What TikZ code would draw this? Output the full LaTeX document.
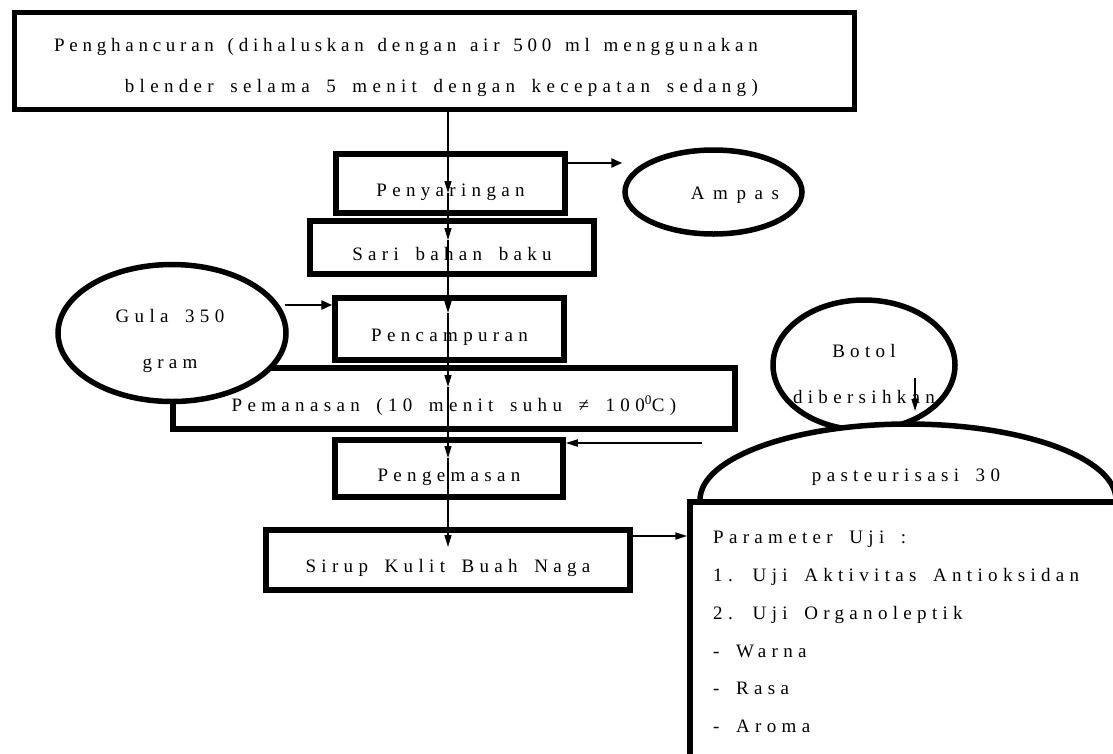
\documentclass[tikz,border=0pt]{standalone}
\usepackage{fontspec}
\setmainfont[LetterSpace=28,WordSpace=1.65]{Liberation Serif}
\newfontfamily\tightserif[LetterSpace=25,WordSpace=1.45]{Liberation Serif}
\usetikzlibrary{shapes.geometric,arrows.meta}

\begin{document}
\begin{tikzpicture}[x=1pt,y=-1pt,
  font=\fontsize{19}{22}\selectfont,
  stepbox/.style={draw, line width=5.5pt, fill=white, inner sep=0pt, text height=25pt, text depth=0pt},
  oval/.style={ellipse, draw, line width=5.5pt, fill=white, inner sep=0pt},
  flow/.style={line width=1.3pt, -{Triangle[length=12pt,width=7pt]}},
  side/.style={line width=2.6pt, -{Triangle[length=11pt,width=9pt]}}]
\useasboundingbox (0,0) rectangle (1113,753);
\clip (0,0) rectangle (1113,753);

\node[stepbox, minimum width=840pt, minimum height=97pt] (hancur) at (434.5,61) {};
\node[align=right, anchor=east, inner sep=0pt, font=\fontsize{19}{41}\selectfont] (hancurtxt) at (758,67)
  {{\tightserif Penghancuran (dihaluskan dengan air 500 ml menggunakan}\\blender selama 5 menit dengan kecepatan sedang)};

\node[stepbox, minimum width=229pt, minimum height=59pt] (saring) at (450.5,183.5) {Penyaringan};
\node[stepbox, minimum width=284pt, minimum height=53pt] (sari) at (452,247.5) {Sari bahan baku};
\node[oval, minimum width=177pt, minimum height=84pt] (ampas) at (713.5,192) {};
\node (ampastxt) at (735,195) {\addfontfeatures{LetterSpace=45}Ampas};

\node[stepbox, minimum width=229pt, minimum height=62pt] (campur) at (449.5,329) {Pencampuran};
\node[stepbox, minimum width=562pt, minimum height=61pt] (panas) at (454,398.5)
  {Pemanasan (10 menit suhu ≠ 100\textsuperscript{0}C)};
\node[oval, minimum width=228pt, minimum height=137pt] (gula) at (172,333) {};
\node[align=center, font=\fontsize{19}{46}\selectfont] (gulatxt) at (170,341) {Gula 350\\gram};

\node[stepbox, minimum width=228pt, minimum height=57pt] (kemas) at (449,468.5) {Pengemasan};
\node[stepbox, minimum width=364pt, minimum height=60pt] (sirup) at (448,560) {Sirup Kulit Buah Naga};

\node[oval, minimum width=182pt, minimum height=130pt] (botol) at (864,365) {};
\node[align=center, font=\fontsize{19}{46}\selectfont] (botoltxt) at (864,374) {Botol\\dibersihkan};
\node[oval, minimum width=416pt, minimum height=152pt] (pasteur) at (908,500) {};
\node (pasteurtxt) at (906,477) {pasteurisasi 30};

\node[stepbox, minimum width=435pt, minimum height=263pt] (param) at (907.5,633.5) {};
\node[align=left, anchor=north west, inner sep=0pt, font=\fontsize{19}{37.8}\selectfont] (paramtxt) at (713,531)
  {Parameter Uji :\\1. Uji Aktivitas Antioksidan\\2. Uji Organoleptik\\- Warna\\- Rasa\\- Aroma};

\coordinate (saringin) at (448,193);
\coordinate (sariin) at (448,240);
\coordinate (campurin) at (448,313);
\coordinate (panasin) at (448,387);
\coordinate (kemasin) at (448,458);
\coordinate (sirupin) at (448,547);
\coordinate (botolout) at (915,378);
\coordinate (botolin) at (915,411);
\coordinate (pasteurout) at (702,443);
\coordinate (saringout) at ([yshift=20.5pt]saring.east);
\coordinate (gulaout) at ([shift={(-4,-28)}]gula.east);
\coordinate (sirupout) at ([yshift=24pt]sirup.east);

\draw[flow] (hancur.south -| saringin) -- (saringin);
\draw[flow] (saringin) -- (sariin);
\draw[flow] (sariin) -- (campurin);
\draw[flow] (campurin) -- (panasin);
\draw[flow] (panasin) -- (kemasin);
\draw[flow] (kemasin) -- (sirupin);
\draw[side] (saringout) -- (saringout -| ampas.west);
\draw[side] (gulaout) -- (gulaout -| campur.west);
\draw[flow] (botolout) -- (botolin);
\draw[flow, line width=2pt] (pasteurout) -- (pasteurout -| kemas.east);
\draw[flow, line width=2pt] (sirupout) -- (sirupout -| param.west);
\end{tikzpicture}
\end{document}
